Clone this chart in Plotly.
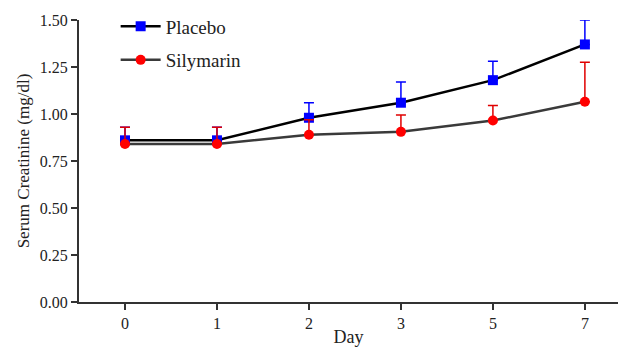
import plotly.graph_objects as go

days = ["0", "1", "2", "3", "5", "7"]
placebo = [0.86, 0.86, 0.98, 1.06, 1.18, 1.37]
placebo_err = [0.07, 0.07, 0.08, 0.11, 0.10, 0.13]
silymarin = [0.84, 0.84, 0.89, 0.905, 0.965, 1.065]
silymarin_err = [0.09, 0.09, 0.08, 0.09, 0.08, 0.21]
zeros = [0] * len(days)

font_family = "Liberation Serif"

fig = go.Figure()
fig.add_trace(go.Scatter(
    x=days, y=placebo, name="Placebo", mode="lines+markers",
    line=dict(color="#000000", width=2.5),
    marker=dict(symbol="square", size=10, color="#0000ff"),
    error_y=dict(type="data", array=placebo_err, arrayminus=zeros, symmetric=False,
                 color="#0000ff", thickness=1.5, width=5),
    legendgroup="a",
))
fig.add_trace(go.Scatter(
    x=days, y=silymarin, name="Silymarin", mode="lines+markers",
    line=dict(color="#3a3a3a", width=2.5),
    marker=dict(symbol="circle", size=10, color="#ff0000"),
    error_y=dict(type="data", array=silymarin_err, arrayminus=zeros, symmetric=False,
                 color="#e00000", thickness=1.5, width=5),
    legendgroup="b",
))

fig.update_layout(
    width=618, height=347,
    margin=dict(l=79, r=0, t=20, b=45),
    plot_bgcolor="white", paper_bgcolor="white",
    font=dict(family=font_family, color="#222222", size=16),
    legend=dict(x=0.068, y=1.045, xanchor="left", yanchor="top",
                font=dict(size=19, family=font_family),
                traceorder="grouped", tracegroupgap=6,
                bgcolor="rgba(0,0,0,0)", itemwidth=40),
    xaxis=dict(
        type="category", range=[-0.5, 5.36], automargin=False,
        showline=True, linecolor="#333333", linewidth=2,
        ticks="outside", ticklen=6, tickwidth=2, tickcolor="#333333",
        showgrid=False, zeroline=False,
        tickfont=dict(size=16, family=font_family),
        title=dict(text="Day", font=dict(size=18, family=font_family), standoff=6),
    ),
    yaxis=dict(
        range=[0, 1.5], tickvals=[0, 0.25, 0.5, 0.75, 1.0, 1.25, 1.5],
        tickformat=".2f", automargin=False,
        showline=True, linecolor="#333333", linewidth=2,
        ticks="outside", ticklen=6, tickwidth=2, tickcolor="#333333",
        showgrid=False, zeroline=False,
        tickfont=dict(size=16, family=font_family),
        title=dict(text="Serum Creatinine (mg/dl)", font=dict(size=17, family=font_family), standoff=6),
    ),
)

fig.write_html("out.html")
